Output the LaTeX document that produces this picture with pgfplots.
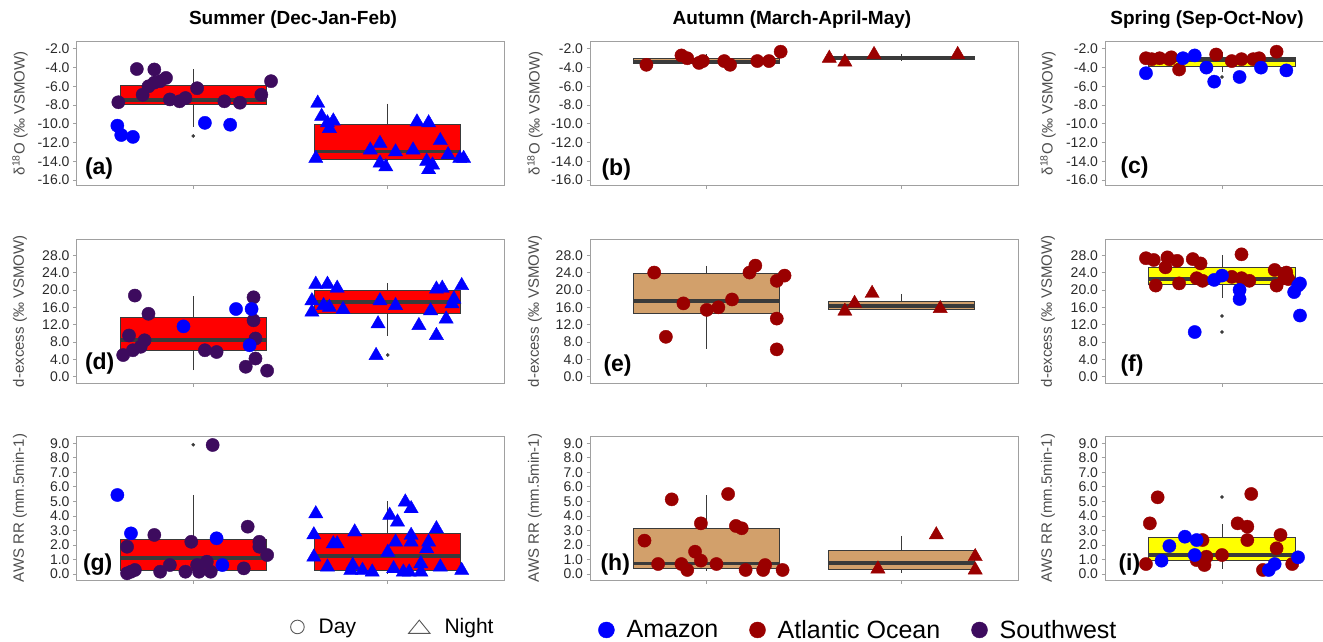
\documentclass[border=0pt]{standalone}
\usepackage{fontspec}
\setmainfont{Liberation Sans}
\usepackage{pgfplots}
\pgfplotsset{compat=1.18}
\usepgfplotslibrary{statistics}
\definecolor{amz}{HTML}{0000FF}
\definecolor{atl}{HTML}{9A0000}
\definecolor{swc}{HTML}{3D0B5E}
\definecolor{boxred}{HTML}{FF0000}
\definecolor{boxtan}{HTML}{D2A06B}
\definecolor{boxyel}{HTML}{FFFF00}
\definecolor{boxline}{HTML}{3A3A3A}
\definecolor{axgray}{HTML}{A0A0A0}
\definecolor{tickcol}{HTML}{2A2A2A}
\definecolor{labcol}{HTML}{4D4D4D}
\newcommand{\tickfont}{\fontsize{14}{14}\selectfont}
\newcommand{\labfont}{\fontsize{15}{15}\selectfont}
\newcommand{\panfont}{\fontsize{23}{23}\selectfont\bfseries}
\newcommand{\titfont}{\fontsize{19}{19}\selectfont\bfseries}
\pgfplotsset{
  panel/.style={
    scale only axis, height=144pt,
    axis line style={draw=axgray, line width=0.9pt},
    tick pos=left, tick align=outside, major tick length=3.5pt,
    every tick/.style={draw=axgray, line width=0.8pt},
    xticklabels={,,},
    yticklabel style={font=\tickfont, text=tickcol,
      /pgf/number format/fixed, /pgf/number format/fixed zerofill,
      /pgf/number format/precision=1, /pgf/number format/assume math mode=true},
    ylabel style={font=\labfont, text=labcol, anchor=center},
    anchor=south west,
  },
  col1/.style={width=428pt, xmin=0.4, xmax=2.6, xtick={1,2},
    ylabel style={at={(axis description cs:-0.132,0.5)}}},
  col2/.style={width=428pt, xmin=0.4, xmax=2.6, xtick={1,2},
    ylabel style={at={(axis description cs:-0.1285,0.5)}}},
  col3/.style={width=218pt, xmin=0.4, xmax=1.518, xtick={1},
    axis x line*=box, axis y line*=left,
    ylabel style={at={(axis description cs:-0.2615,0.5)}}},
  row1/.style={ymin=-16.57, ymax=-1.19, ytick={-16,-14,...,-2},
    ylabel={δ\textsuperscript{18}O (‰ VSMOW)}},
  row2/.style={ymin=-1.51, ymax=31.66, ytick={0,4,...,28},
    ylabel={d-excess (‰ VSMOW)}},
  row3/.style={ymin=-0.41, ymax=9.5, ytick={0,1,...,9},
    ylabel={AWS RR (mm.5min-1)}},
  mybox/.style={
    boxplot/draw direction=y,
    boxplot/box extend=0.75, boxplot/whisker extend=0,
    boxplot/every box/.style={draw=boxline, line width=0.8pt, fill=#1},
    boxplot/every median/.style={draw=boxline, line width=3.8pt},
    boxplot/every whisker/.style={draw=boxline, line width=0.8pt},
    draw=boxline, fill=#1,
    mark=*, mark size=1.6pt, mark options={draw=boxline, fill=boxline},
  },
  pc/.style={only marks, mark=*, mark size=6.6pt, color=#1, mark options={draw=#1, fill=#1}},
  pt/.style={only marks, mark=triangle*, mark size=8.2pt, color=#1, mark options={draw=#1, fill=#1}},
}
\begin{document}
\begin{tikzpicture}
\useasboundingbox (0pt,0pt) rectangle (1323pt,641pt);

% ---------------- (a)
\begin{axis}[panel, col1, row1, at={(76.5pt,455.7pt)},
  title={Summer (Dec-Jan-Feb)},
  title style={font=\titfont, at={(axis description cs:0.506,1)}, anchor=base, yshift=10.7pt}]
\addplot[mybox=boxred, boxplot prepared={median=-7.45, upper quartile=-5.9, lower quartile=-7.9, upper whisker=-4.2, lower whisker=-10.3, draw position=1}] coordinates {(1,-11.3)};
\addplot[mybox=boxred, boxplot prepared={median=-12.95, upper quartile=-10.1, lower quartile=-13.85, upper whisker=-7.85, lower whisker=-13.9, draw position=2}] coordinates {};
\addplot[pc=swc] coordinates {(0.615,-7.7) (0.71,-4.15) (0.74,-6.9) (0.77,-6.0) (0.80,-4.2) (0.80,-5.6) (0.83,-5.45) (0.86,-5.1) (0.88,-7.4) (0.93,-7.6) (0.96,-7.25) (1.02,-6.2) (1.16,-7.6) (1.24,-7.75) (1.35,-6.9) (1.40,-5.45)};
\addplot[pc=amz] coordinates {(0.61,-10.2) (0.63,-11.2) (0.69,-11.4) (1.06,-9.9) (1.19,-10.1)};
\addplot[pt=amz] coordinates {(1.64,-7.8) (1.66,-9.2) (1.69,-9.9) (1.72,-9.7) (1.70,-10.5) (1.63,-13.7) (1.91,-12.8) (1.96,-12.1) (1.96,-14.2) (1.99,-14.6) (2.04,-13.0) (2.13,-12.8) (2.15,-9.8) (2.21,-9.9) (2.20,-14.0) (2.21,-14.9) (2.23,-14.4) (2.27,-11.8) (2.31,-13.3) (2.37,-13.7) (2.39,-13.7)};
\node[anchor=west, font=\panfont, xshift=5pt, yshift=17pt] at (rel axis cs:0,0) {(a)};
\end{axis}

% ---------------- (b)
\begin{axis}[panel, col2, row1, at={(590pt,455.7pt)},
  title={Autumn (March-April-May)},
  title style={font=\titfont, at={(axis description cs:0.472,1)}, anchor=base, yshift=10.7pt}]
\addplot[mybox=boxtan, boxplot prepared={median=-3.4, upper quartile=-3.05, lower quartile=-3.6, upper whisker=-2.6, lower whisker=-3.7, draw position=1}] coordinates {};
\addplot[mybox=boxtan, boxplot prepared={median=-2.95, upper quartile=-2.75, lower quartile=-3.15, upper whisker=-2.5, lower whisker=-3.2, draw position=2}] coordinates {};
\addplot[pc=atl] coordinates {(0.69,-3.7) (0.87,-2.7) (0.90,-3.0) (0.96,-3.5) (0.98,-3.3) (1.09,-3.3) (1.12,-3.7) (1.26,-3.3) (1.32,-3.3) (1.38,-2.3)};
\addplot[pt=atl] coordinates {(1.63,-3.0) (1.71,-3.4) (1.86,-2.6) (2.29,-2.6)};
\node[anchor=west, font=\panfont, xshift=8pt, yshift=16pt] at (rel axis cs:0,0) {(b)};
\end{axis}

% ---------------- (c)
\begin{axis}[panel, col3, row1, at={(1105pt,455.7pt)},
  title={Spring (Sep-Oct-Nov)},
  title style={font=\titfont, at={(axis description cs:0.468,1)}, anchor=base, yshift=10.7pt}]
\addplot[mybox=boxyel, boxplot prepared={median=-3.15, upper quartile=-2.9, lower quartile=-3.85, upper whisker=-2.3, lower whisker=-4.5, draw position=1}] coordinates {(1,-5.0)};
\addplot[pc=atl] coordinates {(0.61,-3.0) (0.64,-3.1) (0.68,-3.0) (0.73,-3.1) (0.74,-2.9) (0.78,-4.2) (0.97,-2.6) (1.05,-3.3) (1.10,-3.1) (1.16,-3.1) (1.19,-3.0) (1.28,-2.3)};
\addplot[pc=amz] coordinates {(0.61,-4.6) (0.80,-3.0) (0.86,-2.7) (0.92,-4.0) (0.96,-5.5) (1.09,-5.0) (1.20,-4.0) (1.33,-4.3)};
\node[anchor=west, font=\panfont, xshift=12pt, yshift=18pt] at (rel axis cs:0,0) {(c)};
\end{axis}

% ---------------- (d)
\begin{axis}[panel, col1, row2, at={(76.5pt,257.7pt)}]
\addplot[mybox=boxred, boxplot prepared={median=8.55, upper quartile=13.7, lower quartile=6.1, upper whisker=18.5, lower whisker=1.5, draw position=1}] coordinates {};
\addplot[mybox=boxred, boxplot prepared={median=17.2, upper quartile=20.0, lower quartile=14.6, upper whisker=21.5, lower whisker=9.5, draw position=2}] coordinates {(2,5.0)};
\addplot[pc=swc] coordinates {(0.64,5.0) (0.67,9.5) (0.69,6.1) (0.70,18.7) (0.73,6.9) (0.75,8.4) (0.77,14.5) (1.06,6.1) (1.12,5.7) (1.27,2.3) (1.31,18.3) (1.31,13.0) (1.32,4.2) (1.32,8.8) (1.38,1.4)};
\addplot[pc=amz] coordinates {(0.95,11.6) (1.22,15.6) (1.30,15.6) (1.29,7.25)};
\addplot[pt=amz] coordinates {(1.63,21.3) (1.61,17.5) (1.61,14.9) (1.69,21.3) (1.67,16.4) (1.70,16.0) (1.74,20.4) (1.77,15.5) (1.94,4.9) (1.95,12.2) (1.96,17.5) (2.04,16.4) (2.16,11.8) (2.22,15.2) (2.25,20.2) (2.25,9.5) (2.28,20.4) (2.30,13.3) (2.34,17.9) (2.33,16.8) (2.38,21.0)};
\node[anchor=west, font=\panfont, xshift=5pt, yshift=20pt] at (rel axis cs:0,0) {(d)};
\end{axis}

% ---------------- (e)
\begin{axis}[panel, col2, row2, at={(590pt,257.7pt)}]
\addplot[mybox=boxtan, boxplot prepared={median=17.4, upper quartile=23.7, lower quartile=14.7, upper whisker=25.6, lower whisker=6.5, draw position=1}] coordinates {};
\addplot[mybox=boxtan, boxplot prepared={median=16.3, upper quartile=17.3, lower quartile=15.6, upper whisker=19.1, lower whisker=15.4, draw position=2}] coordinates {};
\addplot[pc=atl] coordinates {(0.73,24.0) (0.79,9.2) (0.88,16.9) (1.00,15.4) (1.06,16.0) (1.13,17.8) (1.22,24.0) (1.25,25.6) (1.36,22.1) (1.40,23.3) (1.36,13.4) (1.36,6.3)};
\addplot[pt=atl] coordinates {(1.71,15.1) (1.76,16.9) (1.85,19.2) (2.20,15.7)};
\node[anchor=west, font=\panfont, xshift=10pt, yshift=18pt] at (rel axis cs:0,0) {(e)};
\end{axis}

% ---------------- (f)
\begin{axis}[panel, col3, row2, at={(1105pt,257.7pt)}]
\addplot[mybox=boxyel, boxplot prepared={median=22.5, upper quartile=25.2, lower quartile=21.2, upper whisker=28.1, lower whisker=18.2, draw position=1}] coordinates {(1,14.0) (1,10.3)};
\addplot[pc=atl] coordinates {(0.61,27.3) (0.65,26.9) (0.66,21.0) (0.71,25.2) (0.72,27.5) (0.77,26.7) (0.78,21.5) (0.85,27.1) (0.87,22.7) (0.89,26.1) (0.90,22.1) (1.05,23.0) (1.10,28.2) (1.10,22.7) (1.14,22.1) (1.27,24.6) (1.28,21.0) (1.33,24.0) (1.34,22.5) (1.32,22.7)};
\addplot[pc=amz] coordinates {(0.86,10.3) (0.96,22.3) (1.00,23.3) (1.09,20.0) (1.09,17.9) (1.37,19.5) (1.39,21.0) (1.40,21.5) (1.40,14.1)};
\node[anchor=west, font=\panfont, xshift=12pt, yshift=18pt] at (rel axis cs:0,0) {(f)};
\end{axis}

% ---------------- (g)
\begin{axis}[panel, col1, row3, at={(76.5pt,61pt)},
  legend columns=2,
  legend style={at={(0.4988,-0.326)}, anchor=west, draw=none, fill=none,
    font=\fontsize{21}{21}\selectfont, inner sep=0pt,
    /tikz/every odd column/.append style={column sep=12pt},
    /tikz/every even column/.append style={column sep=50pt}}]
\addlegendimage{legend image code/.code={\draw[black!65, line width=0.9pt] (0pt,0pt) circle (6.8pt);}}
\addlegendentry{Day}
\addlegendimage{legend image code/.code={\draw[black!65, line width=0.9pt] (-10.8pt,-6.5pt) -- (10.8pt,-6.5pt) -- (0pt,6.8pt) -- cycle;}}
\addlegendentry{Night}
\addplot[mybox=boxred, boxplot prepared={median=1.08, upper quartile=2.39, lower quartile=0.28, upper whisker=5.44, lower whisker=0.0, draw position=1}] coordinates {(1,8.9)};
\addplot[mybox=boxred, boxplot prepared={median=1.24, upper quartile=2.8, lower quartile=0.23, upper whisker=5.0, lower whisker=0.0, draw position=2}] coordinates {};
\addplot[pc=swc] coordinates {(0.66,0.05) (0.66,1.88) (0.68,0.16) (0.70,0.28) (0.80,2.69) (0.83,0.16) (0.88,0.62) (0.96,0.16) (0.99,2.22) (1.02,0.62) (1.03,0.16) (1.07,0.85) (1.09,0.16) (1.10,8.88) (1.26,0.39) (1.28,3.26) (1.34,2.22) (1.34,1.88) (1.38,1.31)};
\addplot[pc=amz] coordinates {(0.61,5.44) (0.68,2.80) (1.12,2.46) (1.15,0.62)};
\addplot[pt=amz] coordinates {(1.63,4.15) (1.62,2.7) (1.62,1.17) (1.69,0.48) (1.72,2.08) (1.74,2.08) (1.83,2.9) (1.82,0.6) (1.81,0.25) (1.87,0.25) (1.92,0.14) (2.01,4.04) (2.00,1.5) (2.05,3.58) (2.04,2.2) (2.03,0.37) (2.08,0.14) (2.09,4.96) (2.12,4.5) (2.12,2.66) (2.12,2.2) (2.11,0.14) (2.17,0.71) (2.17,0.14) (2.21,2.2) (2.20,1.74) (2.25,3.12) (2.27,0.48) (2.38,0.25)};
\node[anchor=west, font=\panfont, xshift=3pt, yshift=15pt] at (rel axis cs:0,0) {(g)};
\end{axis}

% ---------------- (h)
\begin{axis}[panel, col2, row3, at={(590pt,61pt)},
  legend columns=3,
  legend style={at={(0.0187,-0.347)}, anchor=west, draw=none, fill=none,
    font=\fontsize{25}{25}\selectfont, inner sep=0pt,
    /tikz/every odd column/.append style={column sep=10pt},
    /tikz/column 2/.append style={column sep=29pt},
    /tikz/column 4/.append style={column sep=29pt}}]
\addlegendimage{legend image code/.code={\fill[amz] (0pt,0pt) circle (8pt);}}
\addlegendentry{Amazon}
\addlegendimage{legend image code/.code={\fill[atl] (0pt,0pt) circle (8pt);}}
\addlegendentry{Atlantic Ocean}
\addlegendimage{legend image code/.code={\fill[swc] (0pt,0pt) circle (8pt);}}
\addlegendentry{Southwest}
\addplot[mybox=boxtan, boxplot prepared={median=0.72, upper quartile=3.15, lower quartile=0.4, upper whisker=5.45, lower whisker=0.2, draw position=1}] coordinates {};
\addplot[mybox=boxtan, boxplot prepared={median=0.75, upper quartile=1.62, lower quartile=0.3, upper whisker=2.65, lower whisker=0.1, draw position=2}] coordinates {};
\addplot[pc=atl] coordinates {(0.68,2.30) (0.75,0.69) (0.82,5.14) (0.87,0.69) (0.90,0.28) (0.94,1.54) (0.97,3.49) (0.97,0.92) (1.05,0.69) (1.11,5.51) (1.15,3.31) (1.18,3.15) (1.20,0.28) (1.29,0.28) (1.30,0.62) (1.39,0.28)};
\addplot[pt=atl] coordinates {(1.88,0.35) (2.18,2.7) (2.38,1.2) (2.38,0.28)};
\node[anchor=west, font=\panfont, xshift=7pt, yshift=15pt] at (rel axis cs:0,0) {(h)};
\end{axis}

% ---------------- (i)
\begin{axis}[panel, col3, row3, at={(1105pt,61pt)}]
\addplot[mybox=boxyel, boxplot prepared={median=1.3, upper quartile=2.5, lower quartile=0.95, upper whisker=3.45, lower whisker=0.35, draw position=1}] coordinates {(1,5.3)};
\addplot[pc=atl] coordinates {(0.61,0.69) (0.63,3.49) (0.67,5.28) (0.87,0.96) (0.90,2.34) (0.91,0.62) (0.92,1.19) (1.00,1.31) (1.08,3.49) (1.13,3.26) (1.13,2.34) (1.15,5.51) (1.21,0.28) (1.28,1.77) (1.30,2.69) (1.36,0.69)};
\addplot[pc=amz] coordinates {(0.69,0.92) (0.73,1.93) (0.81,2.57) (0.87,2.34) (0.86,1.31) (1.24,0.28) (1.27,0.69) (1.39,1.15)};
\node[anchor=west, font=\panfont, xshift=10pt, yshift=15pt] at (rel axis cs:0,0) {(i)};
\end{axis}
\end{tikzpicture}
\end{document}
